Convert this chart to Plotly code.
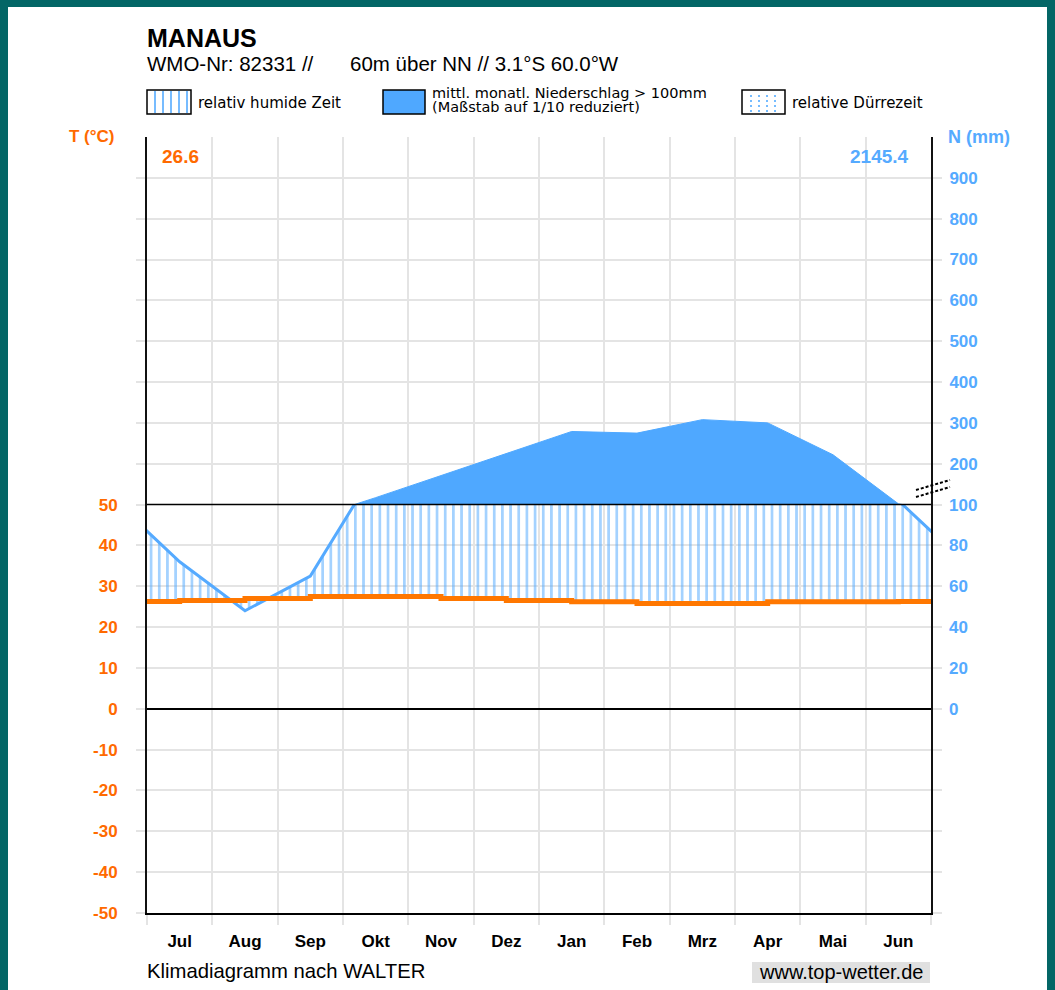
import plotly.graph_objects as go

# ---------------- data ----------------
months = ["Jul", "Aug", "Sep", "Okt", "Nov", "Dez", "Jan", "Feb", "Mrz", "Apr", "Mai", "Jun"]
temp_c = [26.5, 27.0, 27.5, 27.5, 27.0, 26.5, 26.2, 25.8, 25.8, 26.2, 26.2, 26.3]
precip_mm = [72, 48, 65, 117, 171, 225, 279, 275, 308, 300, 222, 102]
t_ticks = [-50, -40, -30, -20, -10, 0, 10, 20, 30, 40, 50]
p_ticks_low = [0, 20, 40, 60, 80, 100]
p_ticks_high = [200, 300, 400, 500, 600, 700, 800, 900]
mean_temp_label = "26.6"
annual_precip_label = "2145.4"
station = "MANAUS"
sub1 = "WMO-Nr: 82331 //"
sub2 = "60m über NN // 3.1°S 60.0°W"

# ---------------- styles ----------------
TEAL = "#036666"
BLUE = "#55aaff"
FILL = "#4fa8ff"
HATCH = "#4aa6ff"
ORANGE_LINE = "#ff7700"
ORANGE_TXT = "#ff6a00"
BLUE_TXT = "#55aaff"
GRID = "#e4e4e4"
FONT = "Liberation Sans, Arial, sans-serif"
FONT2 = "DejaVu Sans, Verdana, sans-serif"

# positions: month centres, with wrap-around months outside the visible range
n = len(months)
centers = [i + 0.5 for i in range(n)]
xs = [-0.5] + centers + [n + 0.5]
ps = [precip_mm[-1]] + precip_mm + [precip_mm[0]]
ts = [temp_c[-1]] + temp_c + [temp_c[0]]

# Walter scale: 10 °C = 20 mm below 100 mm; 100 mm per 10 °C-step above
t_low, t_high = -50, 50
p_top = 1000
f = (t_high - t_low) / ((t_high - t_low) + (p_top - 100) / 10)

fig = go.Figure()

# humid period hatch between 2*T and P (lower subplot, mm axis)
fig.add_trace(go.Scatter(x=xs, y=[2 * t for t in ts], mode="lines",
                         line=dict(width=0, shape="hv"), hoverinfo="skip",
                         xaxis="x", yaxis="y"))
fig.add_trace(go.Scatter(x=xs, y=ps, mode="lines",
                         line=dict(color=BLUE, width=3),
                         fill="tonexty", fillcolor="rgba(0,0,0,0)",
                         fillpattern=dict(shape="|", size=8.17, solidity=0.34,
                                          fgcolor=HATCH, bgcolor="rgba(0,0,0,0)"),
                         hoverinfo="skip", xaxis="x", yaxis="y"))
# precipitation above 100 mm (reduced scale)
fig.add_trace(go.Scatter(x=xs, y=ps, mode="lines",
                         line=dict(color=FILL, width=1),
                         fill="tozeroy", fillcolor=FILL,
                         hoverinfo="skip", xaxis="x", yaxis="y2"))
# temperature
fig.add_trace(go.Scatter(x=xs, y=ts, mode="lines",
                         line=dict(color=ORANGE_LINE, width=5, shape="hv"),
                         hoverinfo="skip", xaxis="x", yaxis="y3"))

L, R, T, B = 147, 124, 137, 77
W, H = 1055, 990
PW, PH = W - L - R, H - T - B


def px(x):
    return (x - L) / PW


def py(y):
    return (H - B - y) / PH


shapes = []
# white panel
shapes.append(dict(type="rect", xref="paper", yref="paper", x0=px(8), x1=px(1047),
                   y0=py(1000), y1=py(7), fillcolor="white", line=dict(width=0), layer="below"))
# 100 mm line (boundary between the two precipitation scales)
shapes.append(dict(type="line", xref="paper", yref="paper", x0=0, x1=1, y0=f, y1=f,
                   line=dict(color="black", width=1.5), layer="above"))
# break marks on right axis
for dy in (0, 7):
    shapes.append(dict(type="line", xref="paper", yref="paper",
                       x0=px(916), x1=px(950), y0=py(490 + dy), y1=py(480 + dy),
                       line=dict(color="black", width=2, dash="3px,2px"), layer="above"))
# legend box 1: humid hatch
for xx in (155, 163, 171, 179, 187):
    shapes.append(dict(type="line", xref="paper", yref="paper", x0=px(xx), x1=px(xx),
                       y0=py(113), y1=py(91), line=dict(color=HATCH, width=1.5)))
shapes.append(dict(type="rect", xref="paper", yref="paper", x0=px(147), x1=px(191),
                   y0=py(114), y1=py(90), line=dict(color="black", width=1.5)))
# legend box 2: filled
shapes.append(dict(type="rect", xref="paper", yref="paper", x0=px(383), x1=px(425),
                   y0=py(114), y1=py(90), fillcolor=FILL, line=dict(color="black", width=1.5)))
# legend box 3: dotted drought
for xx in (751, 759, 767, 775):
    shapes.append(dict(type="line", xref="paper", yref="paper", x0=px(xx), x1=px(xx),
                       y0=py(112), y1=py(92), line=dict(color=HATCH, width=1.5, dash="2px,3px")))
shapes.append(dict(type="rect", xref="paper", yref="paper", x0=px(742), x1=px(785),
                   y0=py(114), y1=py(90), line=dict(color="black", width=1.5)))
# footer url box
shapes.append(dict(type="rect", xref="paper", yref="paper", x0=px(752), x1=px(930),
                   y0=py(983), y1=py(962), fillcolor="#e0e0e0", line=dict(width=0)))

ann = []


def add_text(text, x, y, xanchor="left", size=14, color="black", family=FONT, bold=False):
    ann.append(dict(text=text, xref="paper", yref="paper", x=px(x), y=py(y),
                    xanchor=xanchor, yanchor="middle", showarrow=False,
                    font=dict(family=family, size=size, color=color,
                              weight="bold" if bold else "normal")))


add_text(station, 145, 38, size=25, bold=True)
add_text(sub1, 145, 64, size=20.5)
add_text(sub2, 348, 64, size=20.5)
add_text("relativ humide Zeit", 196, 103, size=15, family=FONT2)
add_text("mittl. monatl. Niederschlag > 100mm", 430, 93, size=14.5, family=FONT2)
add_text("(Maßstab auf 1/10 reduziert)", 430, 107, size=14.5, family=FONT2)
add_text("relative Dürrezeit", 790, 103, size=15, family=FONT2)
add_text("T (°C)", 117, 136, xanchor="right", size=17, color=ORANGE_TXT, bold=True)
add_text("N (mm)", 946, 137, xanchor="left", size=18, color=BLUE_TXT, bold=True)
add_text(mean_temp_label, 160, 156, size=19, color=ORANGE_TXT, bold=True)
add_text(annual_precip_label, 911, 156, xanchor="right", size=19, color=BLUE_TXT, bold=True)
add_text("Klimadiagramm nach WALTER", 145, 971, size=20.3)
add_text("www.top-wetter.de", 841, 972, xanchor="center", size=20)

tick_grid = dict(showgrid=True, gridcolor=GRID, gridwidth=2, ticks="outside",
                 ticklen=9, tickwidth=2, tickcolor=GRID)

fig.update_layout(
    width=W, height=H, autosize=False,
    margin=dict(l=L, r=R, t=T, b=B, pad=0),
    paper_bgcolor=TEAL, plot_bgcolor="white",
    showlegend=False,
    shapes=shapes, annotations=ann,
    xaxis=dict(domain=[0, 1], anchor="y", range=[0, n],
               tickmode="array", tickvals=centers, ticktext=months,
               ticks="", showgrid=False, zeroline=False,
               showline=True, linecolor="black", linewidth=2,
               ticklabelstandoff=12,
               tickfont=dict(family=FONT, size=17, color="black", weight="bold"),
               minor=dict(tickmode="array", tickvals=list(range(n + 1)), showgrid=True,
                          gridcolor=GRID, gridwidth=2, ticks="outside", ticklen=10,
                          tickwidth=2, tickcolor=GRID)),
    yaxis=dict(domain=[0, f], anchor="x", side="right", range=[-100, 100],
               tickmode="array", tickvals=p_ticks_low, ticks="",
               showgrid=False, zeroline=False, showline=False,
               ticklabelstandoff=17,
               tickfont=dict(family=FONT, size=17, color=BLUE_TXT, weight="bold")),
    yaxis3=dict(overlaying="y", anchor="x", side="left", range=[t_low, t_high],
                tickmode="array", tickvals=t_ticks, ticktext=[str(v) for v in t_ticks],
                mirror="ticks", showline=True, linecolor="#111111", linewidth=2,
                zeroline=True, zerolinecolor="black", zerolinewidth=1.5,
                ticklabelstandoff=15,
                tickfont=dict(family=FONT, size=17, color=ORANGE_TXT, weight="bold"),
                **tick_grid),
    yaxis2=dict(domain=[f, 1], anchor="x", side="right", range=[100, p_top],
                tickmode="array", tickvals=p_ticks_high,
                mirror="ticks", showline=True, linecolor="#111111", linewidth=2,
                zeroline=False, ticklabelstandoff=4,
                tickfont=dict(family=FONT, size=17, color=BLUE_TXT, weight="bold"),
                **tick_grid),
)

fig.write_html("out.html", config={"displayModeBar": False},
               post_script="document.body.style.margin='0';")
